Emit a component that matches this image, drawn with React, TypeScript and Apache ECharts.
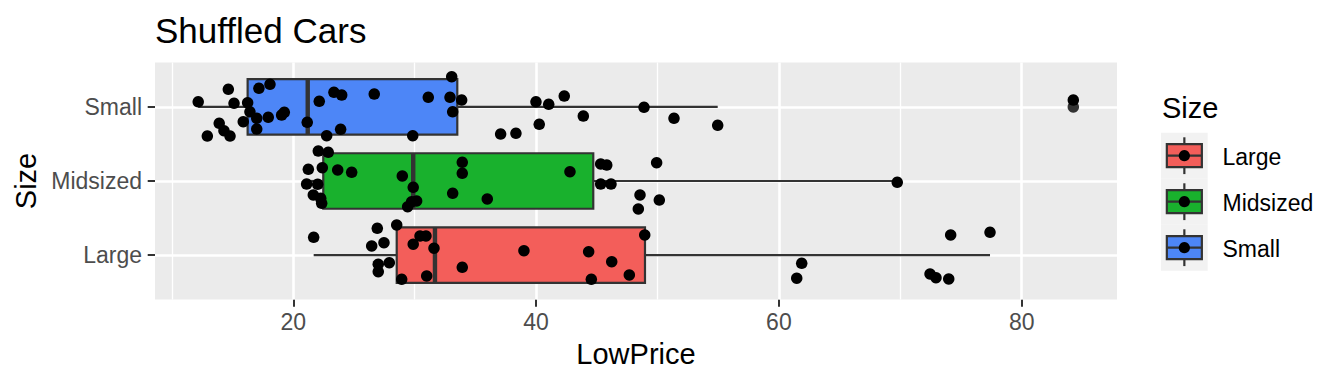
import React, { useEffect, useRef } from "react";
import * as echarts from "echarts";

// ---- Data ----
const sizes = ["Large", "Midsized", "Small"]; // bottom to top
const boxColors = ["#F35E5A", "#19B12D", "#4D86F7"];
const boxLow = [21.68, 21.1, 12.17];
const boxQ1 = [28.52, 22.47, 16.24];
const boxMedian = [31.67, 29.88, 21.19];
const boxQ3 = [48.97, 44.71, 33.51];
const boxHigh = [77.39, 69.75, 54.96];
const outlierSize = ["Small"];
const outlierPrice = [84.25];

const largePrice = [21.68, 26.92, 28.52, 26.46, 27.47, 27.0, 27.0, 27.91, 28.93, 30.44, 30.93, 29.88, 31.59, 30.99, 33.92, 39.0, 44.33, 46.23, 44.55, 47.68, 48.95, 61.88, 61.47, 72.45, 72.94, 73.99, 74.15, 77.39];
const largeJitter = [0.24, 0.362, 0.406, 0.123, 0.167, -0.124, -0.224, -0.103, -0.327, 0.258, 0.258, 0.146, 0.092, -0.282, -0.165, 0.059, 0.045, -0.089, -0.327, -0.269, 0.271, -0.111, -0.313, -0.255, -0.305, -0.323, 0.271, 0.308];

const midPrice = [22.06, 22.88, 21.24, 22.39, 23.66, 24.81, 21.1, 22.01, 21.65, 22.34, 22.26, 28.98, 29.88, 29.75, 29.42, 30.16, 33.92, 33.92, 33.13, 35.98, 42.79, 45.32, 45.82, 45.32, 46.17, 49.93, 48.56, 50.15, 48.42, 69.75];
const midJitter = [0.405, 0.388, 0.158, 0.18, 0.149, 0.117, -0.041, -0.045, -0.189, -0.301, -0.234, 0.068, -0.085, -0.28, -0.347, -0.27, 0.252, 0.104, -0.166, -0.243, 0.126, 0.23, 0.216, -0.041, -0.041, 0.247, -0.189, -0.257, -0.378, -0.018];

const smallPrice = [12.17, 12.92, 13.9, 14.65, 14.29, 14.79, 15.12, 15.88, 16.24, 16.43, 16.99, 16.99, 17.17, 17.94, 18.08, 19.04, 19.26, 21.15, 22.14, 22.75, 23.35, 23.9, 23.99, 26.67, 29.84, 31.12, 32.91, 33.05, 33.13, 33.87, 37.08, 38.34, 39.99, 40.26, 41.04, 42.32, 43.89, 48.89, 51.36, 54.96, 84.25];
const smallJitter = [0.07, -0.393, -0.221, 0.238, -0.321, -0.393, 0.049, -0.2, 0.057, -0.065, -0.298, -0.154, 0.251, -0.14, 0.305, -0.109, -0.073, -0.208, 0.076, -0.389, 0.197, -0.302, 0.161, 0.174, -0.389, 0.13, 0.13, 0.408, -0.065, 0.093, -0.366, -0.356, 0.07, -0.235, 0.035, 0.147, -0.123, -0.005, -0.154, -0.248, 0.093];

const xMajorTicks = [20, 40, 60, 80];
const xMinorTicks = [10, 30, 50, 70];
const yTicks = [1, 2, 3];

const FONT = "'Liberation Sans', Arial, Helvetica, sans-serif";

export default function App() {
  const ref = useRef<HTMLDivElement>(null);

  useEffect(() => {
    if (!ref.current) return;
    document.body.style.margin = "0";
    const chart = echarts.init(ref.current, undefined, { renderer: "svg" });

    const points: number[][] = [];
    const groups = [
      { p: largePrice, j: largeJitter, k: 1 },
      { p: midPrice, j: midJitter, k: 2 },
      { p: smallPrice, j: smallJitter, k: 3 },
    ];
    groups.forEach((g) => g.p.forEach((v, i) => points.push([v, g.k + g.j[i]])));

    const boxData = sizes.map((s, i) => [i + 1, boxLow[i], boxQ1[i], boxMedian[i], boxQ3[i], boxHigh[i]]);
    const outliers = outlierPrice.map((v, i) => [v, sizes.indexOf(outlierSize[i]) + 1]);

    const gridLeft = 155, gridTop = 62.5, gridRight = 1117, gridBottom = 299.5;

    // legend graphics
    const keyX = 1161, keyW = 46.7, keyTop = 132.7, keyH = 46;
    const legendEls: any[] = [];
    sizes.forEach((s, i) => {
      const t = keyTop + i * keyH;
      const cx = keyX + keyW / 2;
      legendEls.push(
        { type: "rect", shape: { x: keyX, y: t, width: keyW, height: keyH }, style: { fill: "#F2F2F2" } },
        { type: "line", shape: { x1: cx, y1: t + 0.1 * keyH, x2: cx, y2: t + 0.25 * keyH }, style: { stroke: "#333333", lineWidth: 2.2 } },
        { type: "line", shape: { x1: cx, y1: t + 0.75 * keyH, x2: cx, y2: t + 0.9 * keyH }, style: { stroke: "#333333", lineWidth: 2.2 } },
        { type: "rect", shape: { x: keyX + 0.125 * keyW, y: t + 0.25 * keyH, width: 0.75 * keyW, height: 0.5 * keyH }, style: { fill: boxColors[i], stroke: "#333333", lineWidth: 2.2 } },
        { type: "line", shape: { x1: keyX + 0.125 * keyW, y1: t + 0.5 * keyH, x2: keyX + 0.875 * keyW, y2: t + 0.5 * keyH }, style: { stroke: "#333333", lineWidth: 2.2 } },
        { type: "circle", shape: { cx, cy: t + 0.5 * keyH, r: 5.6 }, style: { fill: "#000000" } },
        { type: "text", x: 1222.5, y: t + 0.5 * keyH + 1.5, style: { text: s, font: `23px ${FONT}`, fill: "#000000", align: "left", verticalAlign: "middle", textAlign: "left", textVerticalAlign: "middle" } }
      );
    });

    const option: any = {
      animation: false,
      backgroundColor: "#ffffff",
      grid: { left: gridLeft, top: gridTop, width: gridRight - gridLeft, height: gridBottom - gridTop, show: true, backgroundColor: "#EBEBEB", borderWidth: 0 },
      xAxis: {
        type: "value",
        min: 8.61,
        max: 87.85,
        axisLine: { show: false },
        splitLine: { show: false },
        axisTick: { show: true, length: 7.3, lineStyle: { color: "#333333", width: 2 }, customValues: xMajorTicks },
        axisLabel: { customValues: xMajorTicks, color: "#4D4D4D", fontSize: 23, fontFamily: FONT, margin: 22, verticalAlign: "middle" },
      },
      yAxis: {
        type: "value",
        min: 0.4,
        max: 3.6,
        axisLine: { show: false },
        splitLine: { show: false },
        axisTick: { show: true, length: 7.3, lineStyle: { color: "#333333", width: 2 }, customValues: yTicks },
        axisLabel: {
          customValues: yTicks,
          color: "#4D4D4D",
          fontSize: 23,
          fontFamily: FONT,
          margin: 13,
          formatter: (v: number) => sizes[Math.round(v) - 1] ?? "",
        },
      },
      graphic: [
        { type: "text", x: 155, y: 30, style: { text: "Shuffled Cars", font: `35px ${FONT}`, fill: "#000000", align: "left", verticalAlign: "middle", textAlign: "left", textVerticalAlign: "middle" } },
        { type: "text", x: (gridLeft + gridRight) / 2, y: 354, style: { text: "LowPrice", font: `29px ${FONT}`, fill: "#000000", align: "center", verticalAlign: "middle", textAlign: "center", textVerticalAlign: "middle" } },
        { type: "text", x: 26, y: (gridTop + gridBottom) / 2, rotation: Math.PI / 2, style: { text: "Size", font: `29px ${FONT}`, fill: "#000000", align: "center", verticalAlign: "middle", textAlign: "center", textVerticalAlign: "middle" } },
        { type: "text", x: 1162, y: 108, style: { text: "Size", font: `29px ${FONT}`, fill: "#000000", align: "left", verticalAlign: "middle", textAlign: "left", textVerticalAlign: "middle" } },
        ...legendEls,
      ],
      series: [
        {
          type: "scatter",
          data: [],
          z: 1,
          silent: true,
          markLine: {
            z: 1,
            silent: true,
            symbol: ["none", "none"],
            label: { show: false },
            emphasis: { disabled: true },
            lineStyle: { color: "#ffffff", width: 2.6, type: "solid", opacity: 1 },
            data: [
              ...xMinorTicks.map((v) => ({ xAxis: v, lineStyle: { color: "#ffffff", width: 1.3, type: "solid" } })),
              ...xMajorTicks.map((v) => ({ xAxis: v })),
              ...yTicks.map((v) => ({ yAxis: v })),
            ],
          },
        },
        {
          type: "custom",
          z: 2,
          silent: true,
          data: boxData,
          encode: { x: [1, 2, 3, 4, 5], y: 0 },
          renderItem: (params: any, api: any) => {
            const y = api.value(0);
            const idx = params.dataIndex;
            const pLo = api.coord([api.value(1), y]);
            const pQ1 = api.coord([api.value(2), y]);
            const pMed = api.coord([api.value(3), y]);
            const pQ3 = api.coord([api.value(4), y]);
            const pHi = api.coord([api.value(5), y]);
            const top = api.coord([api.value(2), y + 0.375])[1];
            const bot = api.coord([api.value(2), y - 0.375])[1];
            const ls = { stroke: "#333333", lineWidth: 2.2 };
            return {
              type: "group",
              children: [
                { type: "line", shape: { x1: pLo[0], y1: pLo[1], x2: pQ1[0], y2: pQ1[1] }, style: ls },
                { type: "line", shape: { x1: pQ3[0], y1: pQ3[1], x2: pHi[0], y2: pHi[1] }, style: ls },
                { type: "rect", shape: { x: pQ1[0], y: top, width: pQ3[0] - pQ1[0], height: bot - top }, style: { fill: boxColors[idx], stroke: "#333333", lineWidth: 2.2 } },
                { type: "line", shape: { x1: pMed[0], y1: top, x2: pMed[0], y2: bot }, style: { stroke: "#333333", lineWidth: 4.4 } },
              ],
            };
          },
        },
        {
          type: "scatter",
          z: 3,
          silent: true,
          data: outliers,
          symbolSize: 11.5,
          itemStyle: { color: "#333333", opacity: 1 },
        },
        {
          type: "scatter",
          z: 4,
          silent: true,
          data: points,
          symbolSize: 11.5,
          itemStyle: { color: "#000000", opacity: 1 },
        },
      ],
    };

    chart.setOption(option);
    return () => chart.dispose();
  }, []);

  return <div ref={ref} style={{ position: "fixed", left: 0, top: 0, width: 1344, height: 384 }} />;
}
